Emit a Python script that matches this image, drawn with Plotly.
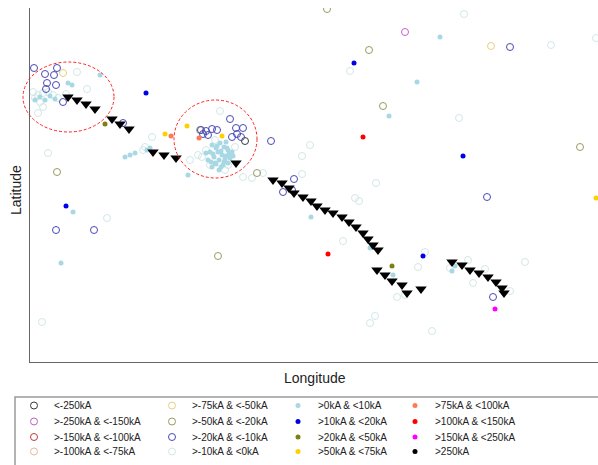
import plotly.graph_objects as go

# ---- data (plot units: x = longitude offset, y = latitude offset) ----
labels = ["<-250kA", ">-250kA & <-150kA", ">-150kA & <-100kA", ">-100kA & <-75kA",
          ">-75kA & <-50kA", ">-50kA & <-20kA", ">-20kA & <-10kA", ">-10kA & <0kA",
          ">0kA & <10kA", ">10kA & <20kA", ">20kA & <50kA", ">50kA & <75kA",
          ">75kA & <100kA", ">100kA & <150kA", ">150kA & <250kA", ">250kA"]

lon_n250 = [215]
lat_n250 = [221]
lon_n150 = [375]
lat_n150 = [330]
lon_n100 = [None]
lat_n100 = [None]
lon_n75 = [None]
lat_n75 = [None]
lon_n50 = [461, 33]
lat_n50 = [316, 289]
lon_n20 = [297, 339, 353, 550, 27, 188, 170, 227]
lat_n20 = [353, 312, 256, 215, 190, 106, 232, 189]
lon_n10 = [4, 15, 27, 24, 17, 26, 16, 33, 93, 171, 176, 182, 187, 178, 173, 200, 202, 207, 211, 213, 206, 241,
           480, 264, 253, 262, 26, 64, 457, 463]
lat_n10 = [294, 288, 294, 287, 279, 277, 273, 260, 239, 232, 231, 233, 232, 227, 228, 243, 225, 228, 225, 234, 234, 221,
           315, 183, 170, 172, 132, 132, 165, 65]
lon_n0 = [434, 521, 566, 320, 429, 280, 272, 272, 346, 47, 57, 3, 8, 13, 18, 23, 13, 8, 18, 77, 122, 115, 113, 168,
          190, 213, 222, 233, 325, 329, 313, 388, 395, 420, 438, 495, 443, 455, 480, 375, 367, 12, 402, 345, 340,
          176, 180, 198, 160, 5, 10, 28, 36, 185, 205, 172, 195]
lat_n0 = [348, 317, 324, 291, 244, 217, 206, 188, 179, 290, 273, 270, 267, 269, 270, 267, 255, 249, 209, 144, 225, 215,
          212, 207, 251, 185, 184, 189, 164, 161, 121, 95, 110, 94, 102, 100, 79, 93, 71, 67, 65, 40, 31, 46, 39,
          212, 197, 197, 202, 264, 260, 264, 268, 222, 215, 205, 192]
lon_p0 = [410, 387, 359, 70, 38, 42, 43, 31, 158, 100, 95, 105, 281, 363, 340, 422, 425, 10, 15, 5,
          182, 186, 190, 194, 198, 188, 192, 196, 184, 180, 200, 189, 194, 185, 198, 191, 182, 202, 178, 196,
          187, 191, 195, 183, 199, 203, 186, 193, 189, 181, 197, 176, 20, 25, 117, 120]
lat_p0 = [325, 280, 246, 287, 279, 277, 150, 99, 187, 207, 205, 209, 145, 87, 114, 91, 96, 265, 262, 262,
          217, 214, 219, 215, 212, 210, 207, 206, 205, 210, 204, 202, 200, 199, 199, 195, 195, 210, 202, 220,
          216, 211, 203, 208, 208, 206, 198, 197, 192, 200, 214, 209, 266, 263, 212, 214]
lon_p10 = [324, 116, 433, 36, 393]
lat_p10 = [299, 269, 206, 156, 106]
lon_p20 = [75, 362]
lat_p20 = [238, 96]
lon_p50 = [135, 157, 192, 566]
lat_p50 = [228, 236, 226, 164]
lon_p75 = [141, 169]
lat_p75 = [226, 224]
lon_p100 = [333, 298]
lat_p100 = [225, 108]
lon_p150 = [465]
lat_p150 = [53]
lon_p250 = [None]
lat_p250 = [None]

# triangle markers (stations)
lon_sta = [38, 47, 56, 65, 82, 90, 99, 123, 134, 146, 206, 243, 252, 259, 264, 273, 281, 287, 295, 303, 312,
           319, 326, 333, 338, 343, 348, 347, 355, 362, 372, 377, 391, 422, 432, 440, 449, 458, 466, 472, 474]
lat_sta = [265, 262, 258, 253, 243, 238, 233, 210, 207, 204, 199, 182, 179, 174, 169, 165, 161, 156, 152, 149, 145,
           140, 135, 129, 123, 117, 112, 92, 87, 81, 77, 69, 73, 100, 97, 92, 89, 85, 80, 74, 69]

series_lon = [lon_n250, lon_n150, lon_n100, lon_n75, lon_n50, lon_n20, lon_n10, lon_n0,
              lon_p0, lon_p10, lon_p20, lon_p50, lon_p75, lon_p100, lon_p150, lon_p250]
series_lat = [lat_n250, lat_n150, lat_n100, lat_n75, lat_n50, lat_n20, lat_n10, lat_n0,
              lat_p0, lat_p10, lat_p20, lat_p50, lat_p75, lat_p100, lat_p150, lat_p250]

# ---- styles ----
colors = ['#3a3a3a', '#c060c8', '#c03838', '#e8b8a0', '#e8d080', '#9a9a60', '#4848b8', '#d2e7e7',
          '#a8d8e4', '#0000e8', '#808010', '#ffd000', '#ff7a50', '#ff0000', '#ff00ff', '#000000']
is_open = [True] * 8 + [False] * 8

# legend grid: column-major 4x4
col_text_x = [54, 192, 318, 435]
row_y = [405.5, 421.5, 437, 451.5]
W, H = 598, 465

draw_order = [7, 8, 0, 1, 2, 3, 4, 5, 6, 9, 10, 11, 12, 13, 14, 15]

fig = go.Figure()
layout_legends = {}
for i in draw_order:
    col, row = divmod(i, 4)
    lkey = 'legend' if i == 0 else f'legend{i + 1}'
    if is_open[i]:
        marker = dict(symbol='circle-open', size=7, color=colors[i], line=dict(width=1, color=colors[i]))
    else:
        marker = dict(symbol='circle', size=5, color=colors[i], line=dict(width=0))
    fig.add_trace(go.Scatter(x=series_lon[i], y=series_lat[i],
                             mode='markers', name=labels[i],
                             marker=marker, legend=lkey, showlegend=True))
    layout_legends[lkey] = dict(
        x=(col_text_x[col] - 40) / W, y=1 - row_y[row] / H,
        xref='container', yref='container', xanchor='left', yanchor='middle',
        bgcolor='rgba(0,0,0,0)', borderwidth=0, visible=True,
        font=dict(family='Liberation Sans, Arial', size=10, color='#222222'))

fig.add_trace(go.Scatter(x=lon_sta, y=lat_sta, mode='markers', name='stations', showlegend=False,
                         marker=dict(symbol='triangle-down', size=10, color='#000000', line=dict(width=0))))

PL, PR, PT, PB = 30, 0, 8, 103
pw, ph = W - PL - PR, H - PT - PB


def px2paper_x(px):
    return (px - PL) / pw


def px2paper_y(py):
    return (H - PB - py) / ph


shapes = [
    dict(type='circle', xref='paper', yref='paper',
         x0=px2paper_x(23), x1=px2paper_x(114), y0=px2paper_y(132), y1=px2paper_y(62),
         line=dict(color='#ff2020', width=1, dash='3px,2px')),
    dict(type='circle', xref='paper', yref='paper',
         x0=px2paper_x(174), x1=px2paper_x(257), y0=px2paper_y(178), y1=px2paper_y(100),
         line=dict(color='#ff2020', width=1, dash='3px,2px')),
    dict(type='rect', xref='paper', yref='paper',
         x0=px2paper_x(15), x1=px2paper_x(640), y0=px2paper_y(520), y1=px2paper_y(397),
         line=dict(color='#9a9a9a', width=1.5), fillcolor='rgba(0,0,0,0)'),
]

annotations = [
    dict(text='Longitude', xref='paper', yref='paper', x=px2paper_x(315), y=px2paper_y(378),
         xanchor='center', yanchor='middle', showarrow=False,
         font=dict(family='Liberation Sans, Arial', size=14, color='#222222')),
    dict(text='Latitude', xref='paper', yref='paper', x=px2paper_x(16), y=px2paper_y(190),
         xanchor='center', yanchor='middle', showarrow=False, textangle=-90,
         font=dict(family='Liberation Sans, Arial', size=14, color='#222222')),
]

fig.update_layout(
    width=W, height=H,
    showlegend=True,
    margin=dict(l=PL, r=PR, t=PT, b=PB, pad=0, autoexpand=False),
    paper_bgcolor='white', plot_bgcolor='white',
    font=dict(family='Liberation Sans, Arial', color='#222222'),
    shapes=shapes,
    annotations=annotations,
    **layout_legends,
)
fig.update_xaxes(range=[0, 568], showgrid=False, zeroline=False, showticklabels=False, ticks='',
                 showline=True, linecolor='#666666', linewidth=1, automargin=False)
fig.update_yaxes(range=[0, 354], showgrid=False, zeroline=False, showticklabels=False, ticks='',
                 showline=True, linecolor='#666666', linewidth=1, automargin=False)

fig.write_html('out.html', config={'displayModeBar': False},
               post_script="document.body.style.margin='0';document.body.style.padding='0';")
